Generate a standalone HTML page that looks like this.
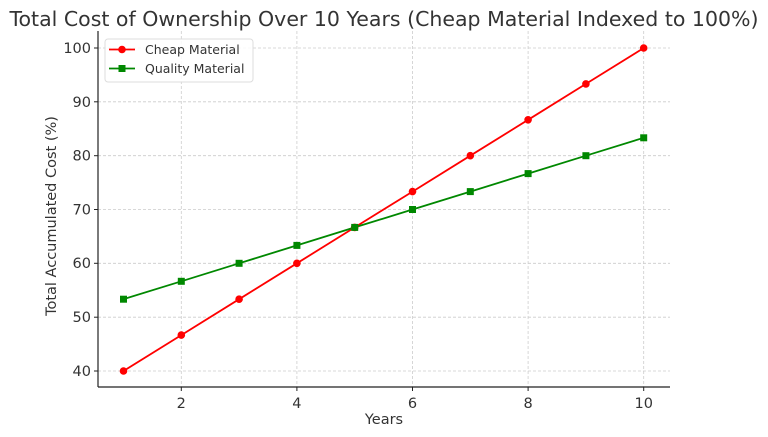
<!DOCTYPE html>
<html><head><meta charset="utf-8"><style>body{margin:0;background:#fff}svg{display:block}text{font-family:"DejaVu Sans","Liberation Sans",sans-serif;fill:#333}</style></head>
<body>
<svg width="768" height="437" viewBox="0 0 768 437" xmlns="http://www.w3.org/2000/svg">
<text x="384" y="26" font-size="20.5" text-anchor="middle">Total Cost of Ownership Over 10 Years (Cheap Material Indexed to 100%)</text>
<g stroke="#ccc" stroke-width="0.8" stroke-dasharray="3,2">
<line x1="181.3" y1="31" x2="181.3" y2="387"/><line x1="296.9" y1="31" x2="296.9" y2="387"/><line x1="412.5" y1="31" x2="412.5" y2="387"/><line x1="528.1" y1="31" x2="528.1" y2="387"/><line x1="643.7" y1="31" x2="643.7" y2="387"/>
<line x1="98" y1="371" x2="670" y2="371"/><line x1="98" y1="317.2" x2="670" y2="317.2"/><line x1="98" y1="263.3" x2="670" y2="263.3"/><line x1="98" y1="209.5" x2="670" y2="209.5"/><line x1="98" y1="155.7" x2="670" y2="155.7"/><line x1="98" y1="101.8" x2="670" y2="101.8"/><line x1="98" y1="48" x2="670" y2="48"/>
</g>
<g stroke="#222" stroke-width="1.2" fill="none"><line x1="98" y1="31" x2="98" y2="387"/><line x1="98" y1="387" x2="670" y2="387"/></g>
<g stroke="#222" stroke-width="1">
<line x1="181.3" y1="387" x2="181.3" y2="391"/><line x1="296.9" y1="387" x2="296.9" y2="391"/><line x1="412.5" y1="387" x2="412.5" y2="391"/><line x1="528.1" y1="387" x2="528.1" y2="391"/><line x1="643.7" y1="387" x2="643.7" y2="391"/>
<line x1="94" y1="371" x2="98" y2="371"/><line x1="94" y1="317.2" x2="98" y2="317.2"/><line x1="94" y1="263.3" x2="98" y2="263.3"/><line x1="94" y1="209.5" x2="98" y2="209.5"/><line x1="94" y1="155.7" x2="98" y2="155.7"/><line x1="94" y1="101.8" x2="98" y2="101.8"/><line x1="94" y1="48" x2="98" y2="48"/>
</g>
<g font-size="14.5" text-anchor="middle">
<text x="181.3" y="408">2</text><text x="296.9" y="408">4</text><text x="412.5" y="408">6</text><text x="528.1" y="408">8</text><text x="643.7" y="408">10</text>
</g>
<g font-size="14.5" text-anchor="end">
<text x="91" y="376">40</text><text x="91" y="322">50</text><text x="91" y="268">60</text><text x="91" y="214.5">70</text><text x="91" y="160.7">80</text><text x="91" y="106.8">90</text><text x="91" y="53">100</text>
</g>
<text x="384" y="424" font-size="14.5" text-anchor="middle">Years</text>
<text transform="translate(56,216) rotate(-90)" font-size="14.5" text-anchor="middle">Total Accumulated Cost (%)</text>
<polyline fill="none" stroke="#f00" stroke-width="1.8" points="123.5,371 181.3,335.1 239.1,299.2 296.9,263.3 354.7,227.4 412.5,191.6 470.3,155.7 528.1,119.8 585.9,83.9 643.7,48"/>
<polyline fill="none" stroke="#080" stroke-width="1.8" points="123.5,299.2 181.3,281.3 239.1,263.3 296.9,245.4 354.7,227.4 412.5,209.5 470.3,191.6 528.1,173.6 585.9,155.7 643.7,137.8"/>
<g fill="#f00">
<circle cx="123.5" cy="371" r="3.8"/><circle cx="181.3" cy="335.1" r="3.8"/><circle cx="239.1" cy="299.2" r="3.8"/><circle cx="296.9" cy="263.3" r="3.8"/><circle cx="354.7" cy="227.4" r="3.8"/><circle cx="412.5" cy="191.6" r="3.8"/><circle cx="470.3" cy="155.7" r="3.8"/><circle cx="528.1" cy="119.8" r="3.8"/><circle cx="585.9" cy="83.9" r="3.8"/><circle cx="643.7" cy="48" r="3.8"/>
</g>
<g fill="#080">
<rect x="120" y="295.7" width="7" height="7"/><rect x="177.8" y="277.8" width="7" height="7"/><rect x="235.6" y="259.8" width="7" height="7"/><rect x="293.4" y="241.9" width="7" height="7"/><rect x="351.2" y="223.9" width="7" height="7"/><rect x="409" y="206" width="7" height="7"/><rect x="466.8" y="188.1" width="7" height="7"/><rect x="524.6" y="170.1" width="7" height="7"/><rect x="582.4" y="152.2" width="7" height="7"/><rect x="640.2" y="134.3" width="7" height="7"/>
</g>
<rect x="105" y="39" width="148" height="43" rx="3" fill="#fff" fill-opacity="0.85" stroke="#ddd"/>
<line x1="109" y1="49.5" x2="135" y2="49.5" stroke="#f00" stroke-width="1.8"/><circle cx="122" cy="49.5" r="3.8" fill="#f00"/>
<line x1="109" y1="68.5" x2="135" y2="68.5" stroke="#080" stroke-width="1.8"/><rect x="118.5" y="65" width="7" height="7" fill="#080"/>
<text x="145" y="54" font-size="12.5">Cheap Material</text>
<text x="145" y="73" font-size="12.5">Quality Material</text>
</svg>
</body></html>
